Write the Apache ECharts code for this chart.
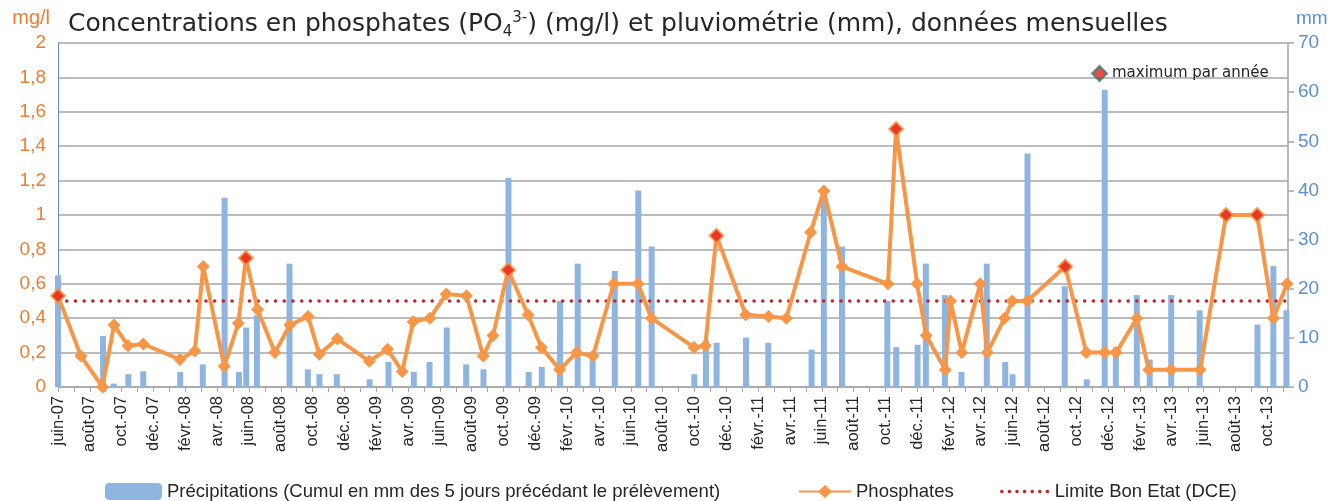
<!DOCTYPE html>
<html>
<head>
<meta charset="utf-8">
<script src="https://cdn.jsdelivr.net/npm/echarts@6/dist/echarts.min.js"></script>
<style>
  html, body { margin: 0; padding: 0; background: #fff; }
  #main { width: 1337px; height: 501px; }
</style>
</head>
<body>
<div id="main"></div>
<script>
// x positions are in months counted from June 2007 (0 = juin-07)
let xLabels = ["juin-07", "août-07", "oct.-07", "déc.-07", "févr.-08", "avr.-08", "juin-08", "août-08",
  "oct.-08", "déc.-08", "févr.-09", "avr.-09", "juin-09", "août-09", "oct.-09", "déc.-09", "févr.-10",
  "avr.-10", "juin-10", "août-10", "oct.-10", "déc.-10", "févr.-11", "avr.-11", "juin-11", "août-11",
  "oct.-11", "déc.-11", "févr.-12", "avr.-12", "juin-12", "août-12", "oct.-12", "déc.-12", "févr.-13",
  "avr.-13", "juin-13", "août-13", "oct.-13"];

let phosMonth = [0, 1.44, 2.8, 3.52, 4.4, 5.36, 7.66, 8.6, 9.13, 10.45,
  11.33, 11.81, 12.54, 13.63, 14.57, 15.72, 16.42, 17.55, 19.56, 20.71,
  21.63, 22.32, 23.37, 24.4, 25.67, 26.72, 27.34, 28.29, 29.54, 30.38,
  31.53, 32.58, 33.62, 34.92, 36.45, 37.29, 39.97, 40.68, 41.38, 43.22,
  44.66, 45.77, 47.3, 48.13, 49.27, 52.16, 52.67, 53.99, 54.56, 55.76,
  56.09, 56.8, 57.96, 58.4, 59.49, 59.97, 60.91, 63.3, 64.62, 65.77,
  66.5, 67.8, 68.55, 69.96, 71.78, 73.41, 75.36, 76.38, 77.24];
let phosValue = [0.53, 0.18, 0, 0.36, 0.24, 0.25, 0.16, 0.21, 0.70, 0.12,
  0.37, 0.75, 0.45, 0.20, 0.36, 0.41, 0.19, 0.28, 0.15, 0.22,
  0.09, 0.38, 0.40, 0.54, 0.53, 0.18, 0.30, 0.68, 0.42, 0.23,
  0.10, 0.20, 0.18, 0.60, 0.60, 0.40, 0.23, 0.24, 0.88, 0.42,
  0.41, 0.40, 0.90, 1.14, 0.70, 0.60, 1.50, 0.60, 0.30, 0.10,
  0.50, 0.20, 0.60, 0.20, 0.40, 0.50, 0.50, 0.70, 0.20, 0.20,
  0.20, 0.40, 0.10, 0.10, 0.10, 1.00, 1.00, 0.40, 0.60];
// index (in phosphates) of the yearly maximum
let maxIndex = [0, 11, 27, 38, 46, 57, 65, 66];

let rainMonth = [0, 2.83, 3.5, 4.42, 5.36, 7.68, 9.1, 10.47, 11.37, 11.83,
  12.5, 14.55, 15.7, 16.43, 17.52, 19.58, 20.77, 22.36, 23.35, 24.43,
  25.65, 26.74, 28.31, 29.58, 30.4, 31.55, 32.66, 33.6, 34.99, 36.47,
  37.31, 39.99, 40.72, 41.39, 43.24, 44.64, 47.36, 48.13, 49.27, 52.12,
  52.68, 54.02, 54.54, 55.74, 56.78, 58.37, 59.53, 59.99, 60.93, 63.27,
  64.65, 65.78, 66.48, 67.8, 68.61, 69.96, 71.75, 75.38, 76.38, 77.2];
let rainValue = [22.7, 10.4, 0.7, 2.6, 3.2, 3.05, 4.6, 38.5, 3.05, 12.1,
  14.6, 25.1, 3.6, 2.6, 2.6, 1.56, 5.1, 3.05, 5.1, 12.1,
  4.6, 3.6, 42.6, 3.05, 4.1, 17.5, 25.1, 5.4, 23.6, 40.0,
  28.6, 2.6, 9.5, 9.0, 10.05, 9.0, 7.6, 40, 28.6, 17.5,
  8.1, 8.6, 25.1, 18.7, 3.05, 25.1, 5.1, 2.6, 47.5, 20.5,
  1.56, 60.5, 8.1, 18.7, 5.6, 18.7, 15.6, 12.7, 24.6, 15.6];

let limitValue = 0.5;
let xMin = 0;
let xMax = 77.3;

let myChart = echarts.init(document.getElementById("main"));

let phosData = phosMonth.map(function (m, i) { return [m, phosValue[i]]; });
let rainData = rainMonth.map(function (m, i) { return [m, rainValue[i]]; });
let maxData = maxIndex.map(function (i) { return [phosMonth[i], phosValue[i]]; });

let textFont = "Liberation Sans";
let titleFont = "DejaVu Sans";

let option = {
  animation: false,
  backgroundColor: "#fff",
  title: {
    text: "Concentrations en phosphates (PO{sub|4}{sup|3-}) (mg/l) et pluviométrie (mm), données mensuelles",
    left: 63,
    top: 3,
    textStyle: {
      fontFamily: titleFont,
      fontSize: 25,
      fontWeight: "normal",
      color: "#262626",
      lineHeight: 32,
      rich: {
        sub: { fontFamily: titleFont, fontSize: 15, color: "#262626", lineHeight: 12, verticalAlign: "bottom" },
        sup: { fontFamily: titleFont, fontSize: 15, color: "#262626", lineHeight: 12, verticalAlign: "top", padding: [3, 0, 0, 0] }
      }
    }
  },
  grid: {
    left: 58,
    right: 49,
    top: 43,
    bottom: 114
  },
  legend: [
    {
      left: 100,
      top: 477,
      itemWidth: 57,
      itemHeight: 17,
      itemGap: 10,
      textStyle: { fontFamily: textFont, fontSize: 18.5, color: "#262626" },
      data: ["Précipitations (Cumul en mm des 5 jours précédant le prélèvement)"]
    },
    {
      left: 793,
      top: 477,
      itemWidth: 52,
      itemHeight: 17,
      textStyle: { fontFamily: textFont, fontSize: 18.5, color: "#262626" },
      data: ["Phosphates"]
    },
    {
      left: 995,
      top: 477,
      itemWidth: 48,
      itemHeight: 17,
      textStyle: { fontFamily: textFont, fontSize: 18.5, color: "#262626" },
      data: [{
        name: "Limite Bon Etat (DCE)",
        itemStyle: { opacity: 0 },
        lineStyle: { color: "#c0262b", width: 3.5, type: [0.1, 7.5], cap: "round" }
      }]
    },
    {
      left: 1086,
      top: 60,
      itemWidth: 15,
      itemHeight: 15,
      itemGap: 4,
      textStyle: { fontFamily: titleFont, fontSize: 15, color: "#262626" },
      data: [{
        name: "maximum par année",
        icon: "diamond",
        itemStyle: { color: "#e3201b", borderColor: "#1f8a76", borderWidth: 2 }
      }]
    }
  ],
  xAxis: {
    type: "value",
    min: xMin,
    max: xMax,
    interval: 1,
    splitLine: { show: false },
    axisLine: { lineStyle: { color: "#a6a6a6", width: 1.5 } },
    axisTick: { show: true, length: 5, lineStyle: { color: "#a6a6a6" } },
    axisLabel: {
      rotate: 90,
      margin: 9,
      fontFamily: textFont,
      fontSize: 16.5,
      color: "#262626",
      showMaxLabel: false,
      formatter: function (v) {
        if (Math.abs(v - Math.round(v)) > 1e-6) return "";
        let k = Math.round(v);
        if (k % 2 !== 0) return "";
        return xLabels[k / 2] || "";
      }
    }
  },
  yAxis: [
    {
      type: "value",
      min: 0,
      max: 2,
      interval: 0.2,
      name: "mg/l",
      nameLocation: "end",
      nameGap: 15,
      nameTextStyle: {
        fontFamily: textFont,
        fontSize: 20,
        color: "#ed7d31",
        align: "right",
        padding: [0, 8, 0, 0]
      },
      axisLine: { show: true, lineStyle: { color: "#5b8fd0", width: 1 } },
      axisTick: { show: false },
      splitLine: { lineStyle: { color: "#a6a6a6", width: 1.5 } },
      axisLabel: {
        fontFamily: textFont,
        fontSize: 19,
        color: "#ed7d31",
        margin: 12,
        formatter: function (v) {
          return String(Math.round(v * 10) / 10).replace(".", ",");
        }
      }
    },
    {
      type: "value",
      min: 0,
      max: 70,
      interval: 10,
      position: "right",
      name: "mm",
      nameLocation: "end",
      nameGap: 15,
      nameTextStyle: {
        fontFamily: textFont,
        fontSize: 19,
        color: "#5b8fd0",
        align: "left",
        padding: [0, 0, 0, 8]
      },
      axisLine: { show: true, lineStyle: { color: "#a6a6a6", width: 1.5 } },
      axisTick: { show: true, inside: false, length: 6, lineStyle: { color: "#a6a6a6", width: 1.5 } },
      splitLine: { show: false },
      axisLabel: {
        fontFamily: textFont,
        fontSize: 19,
        color: "#5b8fd0",
        margin: 10
      }
    }
  ],
  series: [
    {
      name: "Précipitations (Cumul en mm des 5 jours précédant le prélèvement)",
      type: "bar",
      yAxisIndex: 1,
      barWidth: 6,
      clip: true,
      itemStyle: { color: "#8eb4e0" },
      data: rainData
    },
    {
      name: "Limite Bon Etat (DCE)",
      type: "line",
      yAxisIndex: 0,
      symbol: "none",
      lineStyle: { color: "#c0262b", width: 3.5, type: [0.1, 8.6], cap: "round" },
      itemStyle: { color: "#c0262b" },
      data: [[xMin, limitValue], [xMax, limitValue]]
    },
    {
      name: "Phosphates",
      type: "line",
      yAxisIndex: 0,
      symbol: "diamond",
      symbolSize: 13,
      lineStyle: { color: "#f79646", width: 4 },
      itemStyle: { color: "#f79646" },
      data: phosData
    },
    {
      name: "maximum par année",
      type: "scatter",
      yAxisIndex: 0,
      symbol: "diamond",
      symbolSize: 14,
      itemStyle: { color: "#e3201b", borderColor: "#f79646", borderWidth: 2 },
      z: 5,
      data: maxData
    }
  ]
};
myChart.setOption(option);
</script>
</body>
</html>
